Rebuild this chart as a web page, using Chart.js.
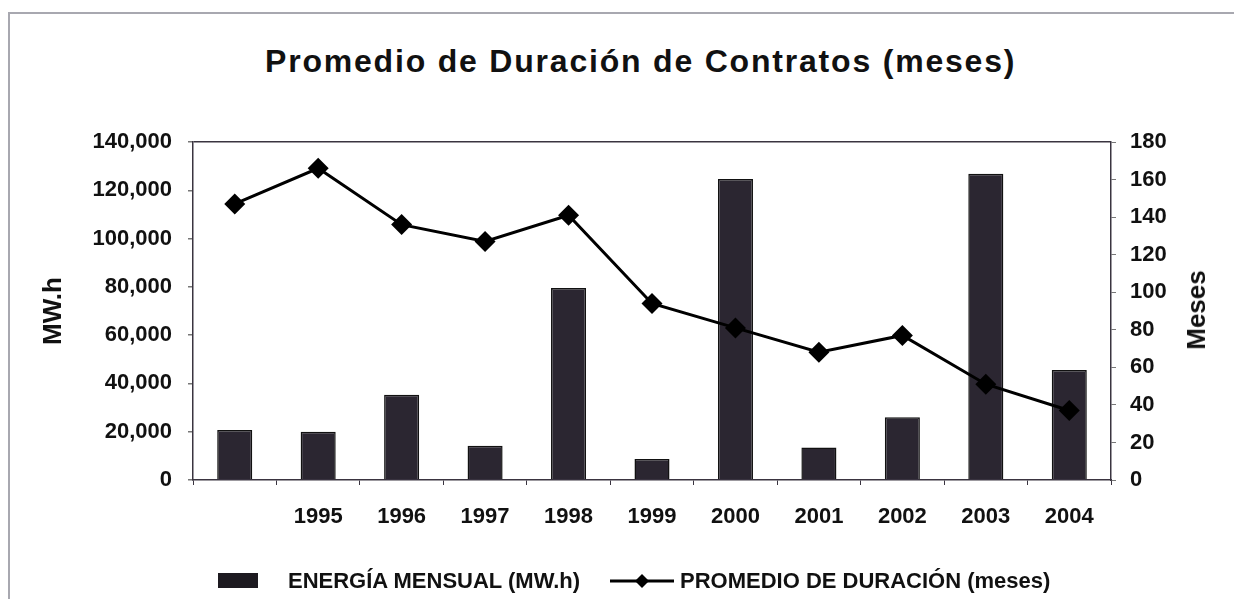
<!DOCTYPE html>
<html>
<head>
<meta charset="utf-8">
<script src="https://cdn.jsdelivr.net/npm/chart.js@4/dist/chart.umd.min.js"></script>
<style>
    body { margin: 0; background: #fff; }
    #wrap { position: relative; width: 1234px; height: 599px; overflow: hidden; font-family: "Liberation Sans", Arial, sans-serif; color: #111; }
    #frame { position: absolute; left: 8px; top: 12px; width: 1300px; height: 700px; border-top: 2px solid #a8a8b0; border-left: 2px solid #a8a8b0; }
    #title { position: absolute; left: 265px; top: 45px; font-size: 32px; line-height: 1; font-weight: bold; letter-spacing: 1.8px; white-space: nowrap; }
    #meses { position: absolute; left: 1196px; top: 310px; font-size: 26px; font-weight: bold; line-height: 1; white-space: nowrap; transform: translate(-50%, -50%) rotate(-90deg); }
    .leg { position: absolute; top: 570px; font-size: 22px; font-weight: bold; line-height: 1; white-space: nowrap; }
    canvas { position: absolute; left: 0; top: 0; }
</style>
</head>
<body>
<div id="wrap">
    <div id="frame"></div>
    <div id="title">Promedio de Duración de Contratos (meses)</div>
    <canvas id="chart" width="1234" height="599"></canvas>
    <div id="meses">Meses</div>
    <div class="leg" style="left:218px;top:573px;width:40px;height:15px;background:#1d1a20;"></div>
    <div class="leg" style="left:288px;">ENERGÍA MENSUAL (MW.h)</div>
    <svg class="leg" style="left:610px;top:571px;" width="64" height="20">
        <line x1="0" y1="10" x2="64" y2="10" stroke="#000" stroke-width="3"/>
        <polygon points="32,3 39,10 32,17 25,10" fill="#000"/>
    </svg>
    <div class="leg" style="left:680px;">PROMEDIO DE DURACIÓN (meses)</div>
</div>
<script>
const categories = ['', '1995', '1996', '1997', '1998', '1999', '2000', '2001', '2002', '2003', '2004'];
const energiaMensual = [20700, 20000, 35300, 14200, 79500, 8700, 124700, 13500, 26000, 126900, 45600];
const promedioDuracion = [147, 166, 136, 127, 141, 94, 81, 68, 77, 51, 37];
const energiaMax = 140000;
const energiaStep = 20000;
const mesesMax = 180;
const mesesStep = 20;

Chart.defaults.font.family = '"Liberation Sans", Arial, sans-serif';
Chart.defaults.font.weight = 'bold';
Chart.defaults.color = '#111';

const axisColor = '#3a3440';

new Chart(document.getElementById('chart'), {
    data: {
        labels: categories,
        datasets: [
            {
                type: 'line',
                label: 'PROMEDIO DE DURACIÓN (meses)',
                data: promedioDuracion,
                yAxisID: 'y1',
                borderColor: '#000',
                borderWidth: 3,
                pointStyle: 'rectRot',
                pointRadius: 10.5,
                pointBackgroundColor: '#000',
                pointBorderColor: '#000',
                pointBorderWidth: 0,
                tension: 0,
                order: 0,
            },
            {
                type: 'bar',
                label: 'ENERGÍA MENSUAL (MW.h)',
                data: energiaMensual,
                yAxisID: 'y',
                backgroundColor: '#2b2631',
                borderColor: '#111',
                borderWidth: 1.5,
                categoryPercentage: 1,
                barPercentage: 0.42,
                order: 1,
            }
        ]
    },
    options: {
        responsive: false,
        animation: false,
        layout: { padding: { top: 142, bottom: 64, left: 0, right: 0 } },
        plugins: {
            legend: { display: false },
            title: { display: false },
            tooltip: { enabled: false },
        },
        scales: {
            x: {
                offset: true,
                grid: { drawOnChartArea: false, offset: true, tickLength: 5, color: axisColor },
                border: { color: axisColor, width: 1.5 },
                ticks: { font: { size: 22 }, padding: 19, maxRotation: 0, autoSkip: false },
                afterFit: (scale) => { scale.height = 55; },
            },
            y: {
                position: 'left',
                min: 0,
                max: energiaMax,
                ticks: {
                    stepSize: energiaStep,
                    font: { size: 22 },
                    padding: 16,
                    callback: (value) => value.toLocaleString('en-US'),
                },
                grid: {
                    drawOnChartArea: true,
                    tickLength: 5,
                    color: (ctx) => (ctx.tick && ctx.tick.value === energiaMax ? axisColor : 'rgba(0,0,0,0)'),
                    tickColor: '#777',
                    lineWidth: 1.5,
                },
                border: { color: axisColor, width: 1.5 },
                title: { display: true, text: 'MW.h', font: { size: 26 }, padding: { top: 38, bottom: 0 } },
                afterFit: (scale) => { scale.width = 193; },
            },
            y1: {
                position: 'right',
                min: 0,
                max: mesesMax,
                ticks: { stepSize: mesesStep, font: { size: 22 }, padding: 14 },
                grid: { drawOnChartArea: false, tickLength: 5, color: '#777' },
                border: { color: axisColor, width: 1.5 },
                afterFit: (scale) => { scale.width = 123; },
            }
        }
    }
});
</script>
</body>
</html>
